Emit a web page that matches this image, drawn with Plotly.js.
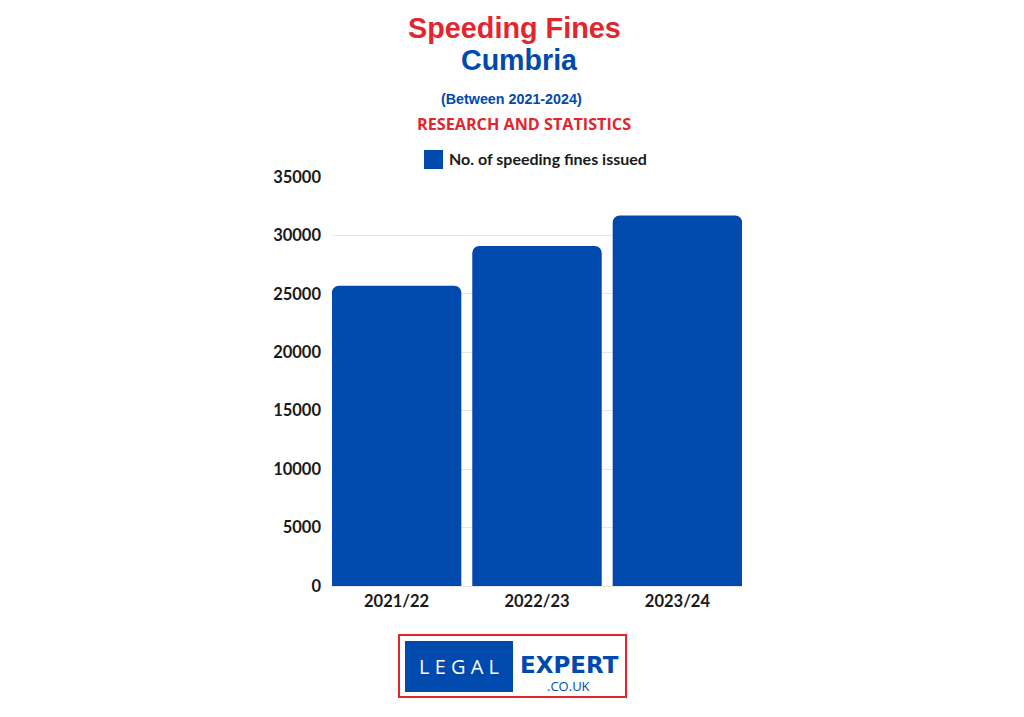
<!DOCTYPE html>
<html>
<head>
<meta charset="utf-8">
<script src="https://cdn.plot.ly/plotly-3.0.1.min.js"></script>
<style>html,body{margin:0;padding:0;background:#fff;}#chart{width:1024px;height:717px;}</style>
</head>
<body>
<div id="chart"></div>
<script>
const categories = ["2021/22", "2022/23", "2023/24"];
const fines = [25700, 29100, 31700];
const seriesName = "No. of speeding fines issued";
const yTicks = [0, 5000, 10000, 15000, 20000, 25000, 30000, 35000];

const BLUE = "#004aad";
const RED = "#e3262d";

// pixel helpers for plot area: x 332..742, y 177..586
const L = 332, R = 742, T = 177, B = 586;
const px = x => (x - L) / (R - L);
const py = y => (B - y) / (B - T);

const trace = {
  type: "bar",
  x: categories,
  y: fines,
  name: seriesName,
  marker: { color: BLUE, cornerradius: 7 },
  hoverinfo: "x+y",
  showlegend: false
};

const layout = {
  width: 1024, height: 717,
  margin: { l: L, r: 1024 - R, t: T, b: 717 - B, pad: 0 },
  paper_bgcolor: "#ffffff",
  plot_bgcolor: "#ffffff",
  bargap: 0.078,
  showlegend: false,
  xaxis: {
    type: "category",
    range: [-0.46, 2.46],
    showgrid: false, zeroline: false, showline: false,
    ticks: "", ticklen: 0,
    ticklabelstandoff: 3,
    tickfont: { family: "Lato", size: 16.5, color: "#1a1a1a", weight: 700 },
    fixedrange: true
  },
  yaxis: {
    range: [0, 35000],
    tickvals: yTicks,
    ticktext: yTicks.map(String),
    showgrid: true, gridcolor: "#e6e6e6", gridwidth: 1,
    zeroline: true, zerolinecolor: "#e6e6e6",
    showline: false, ticks: "",
    ticklabelstandoff: 10,
    tickfont: { family: "Lato", size: 16.5, color: "#1a1a1a", weight: 700 },
    fixedrange: true
  },
  shapes: [
    { type: "rect", xref: "paper", yref: "paper", x0: px(424), x1: px(443), y0: py(169), y1: py(150),
      fillcolor: BLUE, line: { width: 0 } },
    { type: "rect", xref: "paper", yref: "paper", x0: px(399), x1: px(626), y0: py(697), y1: py(635),
      fillcolor: "#ffffff", line: { color: RED, width: 2 } },
    { type: "rect", xref: "paper", yref: "paper", x0: px(405), x1: px(513), y0: py(692), y1: py(641),
      fillcolor: BLUE, line: { width: 0 } }
  ],
  annotations: [
    { text: "<b>Speeding Fines</b>", xref: "paper", yref: "paper", x: px(514), y: py(28),
      showarrow: false, xanchor: "center", yanchor: "middle",
      font: { family: "Liberation Sans, Arial", size: 28.8, color: RED } },
    { text: "<b>Cumbria</b>", xref: "paper", yref: "paper", x: px(519), y: py(60),
      showarrow: false, xanchor: "center", yanchor: "middle",
      font: { family: "Liberation Sans, Arial", size: 28.6, color: BLUE } },
    { text: "<b>(Between 2021-2024)</b>", xref: "paper", yref: "paper", x: px(511.5), y: py(99),
      showarrow: false, xanchor: "center", yanchor: "middle",
      font: { family: "Liberation Sans, Arial", size: 14.3, color: BLUE } },
    { text: "<b>RESEARCH AND STATISTICS</b>", xref: "paper", yref: "paper", x: px(523.5), y: py(124),
      showarrow: false, xanchor: "center", yanchor: "middle",
      font: { family: "Open Sans", size: 16.2, color: RED } },
    { text: "<b>" + seriesName + "</b>", xref: "paper", yref: "paper", x: px(447), y: py(159),
      showarrow: false, xanchor: "left", yanchor: "middle",
      font: { family: "Lato", size: 16, color: "#1a1a1a" } },
    { text: "L E G A L", xref: "paper", yref: "paper", x: px(459), y: py(666),
      showarrow: false, xanchor: "center", yanchor: "middle",
      font: { family: "Open Sans", size: 20, color: "#ffffff", weight: 400 } },
    { text: "<b>EXPERT</b>", xref: "paper", yref: "paper", x: px(569.5), y: py(665),
      showarrow: false, xanchor: "center", yanchor: "middle",
      font: { family: "DejaVu Sans", size: 23, color: BLUE } },
    { text: ".CO.UK", xref: "paper", yref: "paper", x: px(568), y: py(686),
      showarrow: false, xanchor: "center", yanchor: "middle",
      font: { family: "Open Sans", size: 13, color: BLUE } }
  ]
};

Plotly.newPlot("chart", [trace], layout, { displayModeBar: false });
</script>
</body>
</html>
